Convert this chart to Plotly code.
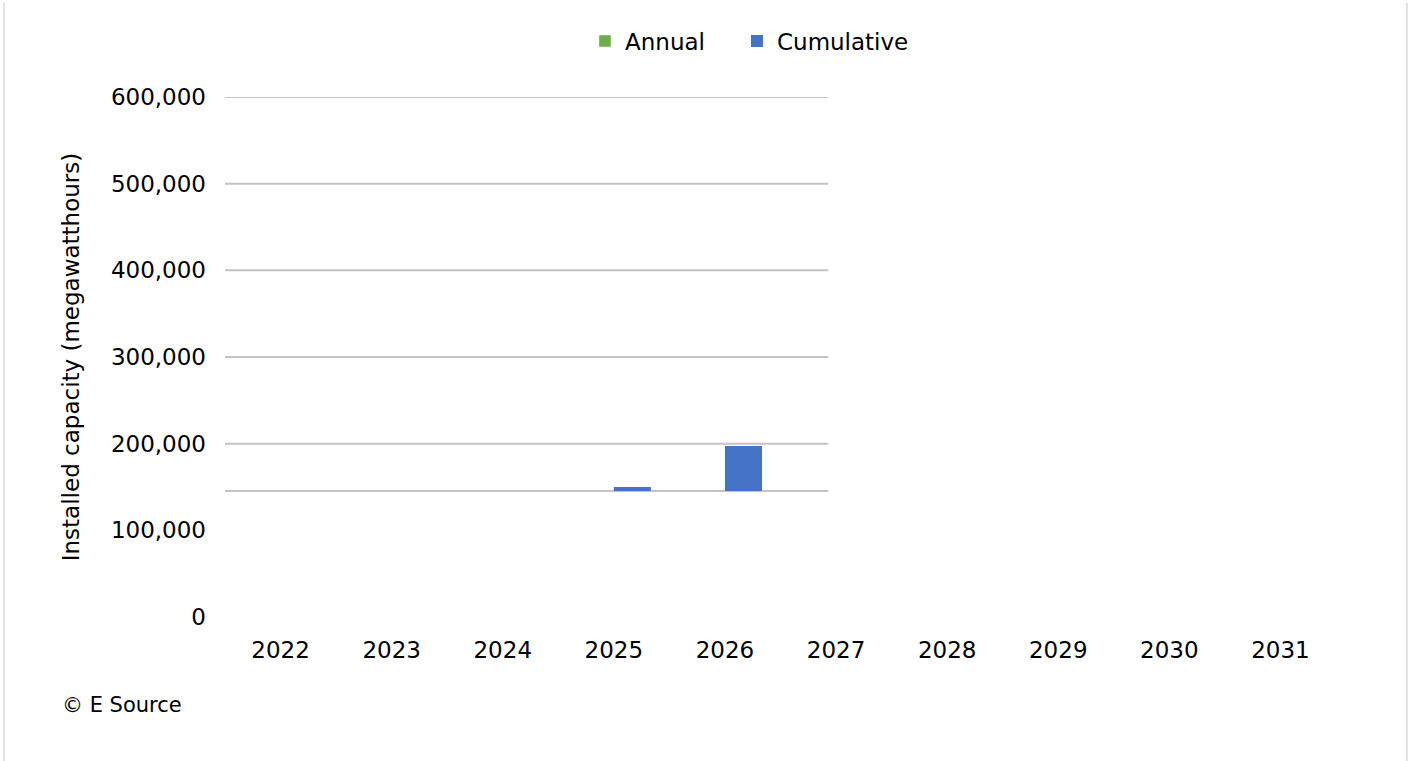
import plotly.graph_objects as go

# ---- data ----
years = ["2022", "2023", "2024", "2025", "2026", "2027", "2028", "2029", "2030", "2031"]
annual = [None] * 10
cumulative_top = [None, None, None, 150000, 197300, None, None, None, None, None]
baseline_value = 145400
y_ticks = [0, 100000, 200000, 300000, 400000, 500000, 600000]
y_tick_labels = ["0", "100,000", "200,000", "300,000", "400,000", "500,000", "600,000"]
grid_values = [200000, 300000, 400000, 500000, 600000]

cum_heights = [None if v is None else v - baseline_value for v in cumulative_top]

W, H = 1409, 761
L, R, T, B = 225, 73, 97, 144
pw, ph = W - L - R, H - T - B

def px_x(p):
    return (p - L) / pw

def px_y(p):
    return (H - B - p) / ph

FONT = "DejaVu Sans"
FS = 23

fig = go.Figure()
fig.add_trace(go.Bar(name="Annual", x=years, y=annual, marker_color="#70AD47", legend="legend"))
fig.add_trace(go.Bar(name="Cumulative", x=years, y=cum_heights, base=baseline_value,
                     marker=dict(color="#4472C4", line=dict(width=0)), legend="legend2"))

shapes = []
grid_end = 4.93
for g in grid_values + [baseline_value]:
    shapes.append(dict(type="line", xref="x", yref="y", x0=-0.5, x1=grid_end, y0=g, y1=g,
                       line=dict(color="#C3C3C3", width=2), layer="below"))
# outer frame lines
for xp in [4, 1407]:
    shapes.append(dict(type="line", xref="paper", yref="paper", x0=px_x(xp), x1=px_x(xp),
                       y0=px_y(3), y1=px_y(770), line=dict(color="#DADADA", width=1.5)))

leg_common = dict(orientation="h", yanchor="middle", xanchor="left", y=px_y(41),
                  font=dict(size=FS, color="#000000"), itemwidth=30, bgcolor="rgba(0,0,0,0)")

fig.update_layout(
    width=W, height=H,
    margin=dict(l=L, r=R, t=T, b=B),
    paper_bgcolor="white", plot_bgcolor="white",
    font=dict(family=FONT, size=FS, color="#000000"),
    barmode="group", bargap=0.333, bargroupgap=0,
    showlegend=True,
    legend=dict(x=px_x(585), **leg_common),
    legend2=dict(x=px_x(737), **leg_common),
    shapes=shapes,
    annotations=[dict(text="© E Source", xref="paper", yref="paper", x=px_x(60), y=px_y(705),
                      xanchor="left", yanchor="middle", showarrow=False,
                      font=dict(size=21, color="#000000"))],
)
fig.update_xaxes(type="category", categoryorder="array", categoryarray=years,
                 showgrid=False, showline=False, ticks="", zeroline=False,
                 tickfont=dict(size=FS), ticklabelstandoff=17, range=[-0.5, 9.5])
fig.update_yaxes(range=[0, 600000], tickvals=y_ticks, ticktext=y_tick_labels,
                 showgrid=False, showline=False, zeroline=False, ticks="",
                 tickfont=dict(size=FS), ticklabelstandoff=18,
                 title=dict(text="Installed capacity (megawatthours)", font=dict(size=FS), standoff=24))

fig.write_html("out.html")
